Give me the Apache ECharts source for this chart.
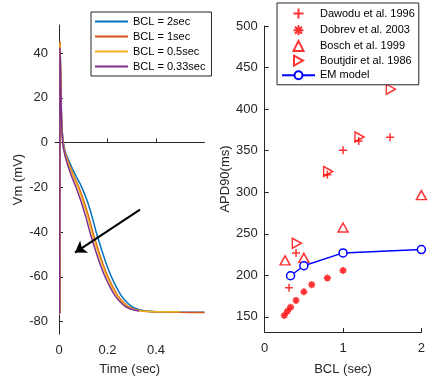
<!DOCTYPE html>
<html><head><meta charset="utf-8">
<script src="https://cdn.jsdelivr.net/npm/echarts@6/dist/echarts.min.js"></script>
<style>html,body{margin:0;padding:0;background:#fff}#c{width:428px;height:381px}</style>
</head><body><div id="c"></div>
<script>
// ---- Left panel: action potential traces [time (s), Vm (mV)] ----
const traceNames = ['BCL = 2sec', 'BCL = 1sec', 'BCL = 0.5sec', 'BCL = 0.33sec'];
const traceColors = ['#0072BD', '#D95319', '#EDB120', '#7E2F8E'];
const bcl2 = [[0,-76.2],[0.003,-76.2],[0.004,44.8],[0.007,31],[0.011,10],[0.018,0],[0.027,-4.5],[0.04,-8],[0.068,-14.5],[0.094,-20],[0.116,-26],[0.136,-33],[0.156,-41],[0.176,-48],[0.196,-54.5],[0.216,-60],[0.236,-64.5],[0.256,-68.3],[0.276,-71],[0.296,-73],[0.316,-74.2],[0.336,-74.9],[0.356,-75.3],[0.4,-75.6],[0.45,-75.7],[0.5,-75.8],[0.6,-75.9]];
const bcl1 = [[0,-76.2],[0.003,-76.2],[0.004,45.2],[0.007,30],[0.011,9],[0.017,-0.5],[0.025,-4.5],[0.036,-8],[0.06,-14.5],[0.082,-20],[0.102,-26],[0.122,-33],[0.142,-41],[0.162,-48],[0.182,-54.5],[0.202,-60],[0.222,-64.5],[0.242,-68.3],[0.262,-71],[0.282,-73],[0.302,-74.2],[0.322,-74.9],[0.342,-75.3],[0.38,-75.6],[0.45,-75.8],[0.5,-75.9],[0.6,-76]];
const bcl05 = [[0,-76.6],[0.003,-76.6],[0.004,44.4],[0.007,29],[0.011,8.5],[0.017,-0.8],[0.024,-4.5],[0.034,-8],[0.057,-14.5],[0.078,-20],[0.098,-26],[0.118,-33],[0.138,-41],[0.158,-48],[0.178,-54.5],[0.198,-60],[0.218,-64.5],[0.238,-68.3],[0.258,-71],[0.278,-73],[0.298,-74.2],[0.318,-74.9],[0.338,-75.3],[0.38,-75.5],[0.44,-75.6],[0.5,-75.6]];
const bcl033 = [[0,-76.2],[0.003,-76.2],[0.004,42.2],[0.007,28],[0.011,8],[0.016,-1],[0.022,-4.5],[0.03,-8],[0.05,-14.5],[0.07,-20],[0.09,-26],[0.11,-33],[0.13,-41],[0.15,-48],[0.17,-54.5],[0.19,-60],[0.21,-64.5],[0.23,-68.3],[0.25,-71],[0.27,-73],[0.29,-74.2],[0.31,-74.9],[0.33,-75.3]];
const leftXTicks = [0, 0.2, 0.4];
const leftYTicks = [-80, -60, -40, -20, 0, 20, 40];
const arrowFrom = [0.334, -30];
const arrowTo = [0.066, -49.2];

// ---- Right panel: APD90 vs BCL ----
const dawoduBCL = [0.31, 0.40, 0.80, 1.0, 1.2, 1.6];
const dawoduAPD = [185, 227, 321, 350.5, 361.5, 366];
const dobrevBCL = [0.25, 0.29, 0.33, 0.40, 0.50, 0.60, 0.80, 1.0];
const dobrevAPD = [151.7, 156.8, 161.6, 169.8, 180.2, 188.8, 196.8, 205.8];
const boschBCL = [0.26, 0.5, 1.0, 2.0];
const boschAPD = [218, 221, 257.5, 296.5];
const boutjdirBCL = [0.41, 0.81, 1.21, 1.61];
const boutjdirAPD = [238.5, 325, 366.5, 424];
const emBCL = [0.33, 0.5, 1.0, 2.0];
const emAPD = [199.5, 211.5, 227, 231];
const rightXTicks = [0, 1, 2];
const rightYTicks = [150, 200, 250, 300, 350, 400, 450, 500];

const zip = (a, b) => a.map((v, i) => [v, b[i]]);
const FONT = 'Liberation Sans, Arial, Helvetica, sans-serif';
const AX = '#262626';

function axisCommon(ticks, fmt, margin) {
  return {
    axisLine: { show: true, lineStyle: { color: AX, width: 1 } },
    axisTick: { show: true, inside: true, length: 4, customValues: ticks, lineStyle: { color: AX, width: 1 } },
    axisLabel: { customValues: ticks, color: AX, fontSize: 13, fontFamily: FONT, formatter: fmt, margin: margin },
    splitLine: { show: false },
    nameTextStyle: { color: AX, fontSize: 13, fontFamily: FONT }
  };
}

const traces = [bcl2, bcl1, bcl05, bcl033];
const series = traces.map((d, i) => ({
  name: traceNames[i], type: 'line', xAxisIndex: 0, yAxisIndex: 0,
  data: d, symbol: 'none', showSymbol: false, smooth: 0.3,
  lineStyle: { color: traceColors[i], width: 1.5 }, itemStyle: { color: traceColors[i] },
  z: 2 + i, animation: false
}));
series[0].markLine = {
  silent: true, symbol: ['none', 'arrow'], symbolSize: 11,
  lineStyle: { color: '#000', width: 2, type: 'solid' }, label: { show: false },
  data: [[{ coord: arrowFrom }, { coord: arrowTo }]], animation: false, z: 10
};

const RED = '#FF0000';
series.push(
  { name: 'Dawodu et al. 1996', type: 'scatter', xAxisIndex: 1, yAxisIndex: 1, data: zip(dawoduBCL, dawoduAPD),
    symbol: 'path://M0,-5L0,5M-5,0L5,0', symbolSize: 8, clip: false,
    itemStyle: { color: 'none', borderColor: RED, borderWidth: 1.5 } },
  { name: 'Dobrev et al. 2003', type: 'scatter', xAxisIndex: 1, yAxisIndex: 1, data: zip(dobrevBCL, dobrevAPD),
    symbol: 'path://M0,-5L0,5M-5,0L5,0M-3.5,-3.5L3.5,3.5M-3.5,3.5L3.5,-3.5', symbolSize: 7, clip: false,
    itemStyle: { color: 'none', borderColor: RED, borderWidth: 1.8 } },
  { name: 'Bosch et al. 1999', type: 'scatter', xAxisIndex: 1, yAxisIndex: 1, data: zip(boschBCL, boschAPD),
    symbol: 'path://M0,10L5,0L10,10Z', symbolSize: [10, 9], clip: false,
    itemStyle: { color: 'rgba(0,0,0,0)', borderColor: RED, borderWidth: 1.5 } },
  { name: 'Boutjdir et al. 1986', type: 'scatter', xAxisIndex: 1, yAxisIndex: 1, data: zip(boutjdirBCL, boutjdirAPD),
    symbol: 'path://M0,0L9,5L0,10Z', symbolSize: [9, 10], clip: false,
    itemStyle: { color: 'rgba(0,0,0,0)', borderColor: RED, borderWidth: 1.5 } },
  { name: 'EM model', type: 'line', xAxisIndex: 1, yAxisIndex: 1, data: zip(emBCL, emAPD),
    symbol: 'circle', symbolSize: 8, showSymbol: true, clip: false,
    lineStyle: { color: '#0000FF', width: 1.5 },
    itemStyle: { color: '#fff', borderColor: '#0000FF', borderWidth: 1.5 }, z: 3 }
);

const legendText = { fontSize: 11, fontFamily: FONT, color: '#000', lineHeight: 13 };
const option = {
  animation: false,
  backgroundColor: '#fff',
  grid: [
    { left: 55, top: 25, width: 149.5, height: 311, containLabel: false },
    { left: 264.7, top: 26, width: 161.6, height: 310, containLabel: false }
  ],
  xAxis: [
    Object.assign(axisCommon(leftXTicks, v => (v === 0 ? '0' : String(+v.toFixed(1))), 10), {
      type: 'value', gridIndex: 0, min: -0.0165, max: 0.6, name: 'Time (sec)', nameLocation: 'middle', nameGap: 29 }),
    Object.assign(axisCommon(rightXTicks, v => String(v), 10), {
      type: 'value', gridIndex: 1, min: 0, max: 2, name: 'BCL (sec)', nameLocation: 'middle', nameGap: 31 })
  ],
  yAxis: [
    Object.assign(axisCommon(leftYTicks, v => String(v), 7), {
      type: 'value', gridIndex: 0, min: -85.6, max: 52.6, name: 'Vm (mV)', nameLocation: 'middle', nameGap: 29 }),
    Object.assign(axisCommon(rightYTicks, v => String(v), 7), {
      type: 'value', gridIndex: 1, min: 131.8, max: 500, name: 'APD90(ms)', nameLocation: 'middle', nameGap: 31 })
  ],
  legend: [
    { data: traceNames, orient: 'vertical', left: 91, top: 12, icon: 'rect', itemWidth: 33, itemHeight: 2, itemGap: 2,
      padding: [3, 6, 3, 4], borderColor: AX, borderWidth: 1, backgroundColor: '#fff', textStyle: legendText,
      selectedMode: false },
    { data: ['Dawodu et al. 1996', 'Dobrev et al. 2003', 'Bosch et al. 1999', 'Boutjdir et al. 1986', 'EM model'],
      orient: 'vertical', left: 277, top: 3, itemWidth: 33, itemHeight: 10, itemGap: 1.7,
      padding: [3, 4, 3, 4], borderColor: AX, borderWidth: 1, backgroundColor: '#fff', textStyle: legendText,
      selectedMode: false }
  ],
  series: series
};
const chart = echarts.init(document.getElementById('c'), null, { renderer: 'canvas' });
chart.setOption(option);
</script></body></html>
